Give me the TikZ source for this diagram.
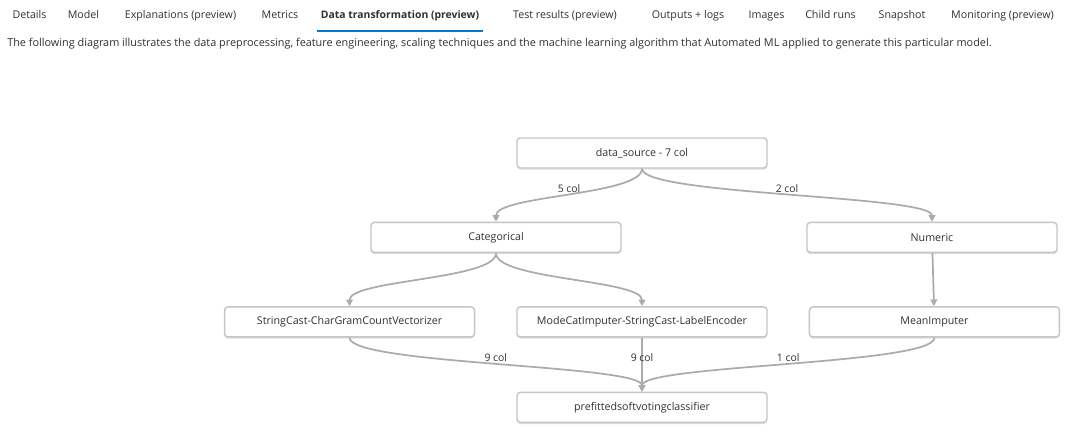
\documentclass[tikz,border=0pt]{standalone}
\usepackage{fontspec}
\setmainfont{Open Sans}
\usepackage{xcolor}
\usetikzlibrary{arrows.meta, positioning, shadows, calc}
\definecolor{inkgray}{HTML}{323130}
\definecolor{edgegray}{HTML}{ABABAB}
\definecolor{boxgray}{HTML}{C8C6C4}
\definecolor{tabblue}{HTML}{0078D4}

\begin{document}
\begin{tikzpicture}[
    x=0.75pt, y=-0.75pt,
    font=\fontsize{8}{10}\selectfont,
    node distance=39.75pt and 30.75pt,
    tab/.style={anchor=base, inner sep=0pt, text=inkgray, font=\fontsize{8}{10}\selectfont},
    stage/.style={draw=boxgray, line width=1.1pt, rounded corners=2.5pt, fill=white, text=inkgray,
        minimum width=187.5pt, minimum height=22.5pt, inner sep=0pt,
        drop shadow={shadow xshift=0pt, shadow yshift=-1.2pt, opacity=0.35, fill=black!35}},
    flow/.style={draw=edgegray, line width=1.3pt, -{Triangle[length=5pt, width=5pt]}},
    count/.style={midway, above, inner sep=1.5pt, text=inkgray, font=\fontsize{7.8}{9}\selectfont}
]
\fill[white] (0,0) rectangle (1078,435);
\useasboundingbox (0,0) rectangle (1078,435);

% tab bar
\node[tab] (tDetails) at (29.5,18.3) {Details};
\node[tab] (tModel) at (83.5,18.3) {Model};
\node[tab] (tExplain) at (180.5,18.3) {Explanations (preview)};
\node[tab] (tMetrics) at (280,18.3) {Metrics};
\node[tab, font=\fontsize{7.8}{10}\selectfont\bfseries] (tData) at (400,18.3) {Data transformation (preview)};
\node[tab] (tTest) at (565,18.3) {Test results (preview)};
\node[tab] (tOutputs) at (688,18.3) {Outputs + logs};
\node[tab] (tImages) at (766.5,18.3) {Images};
\node[tab] (tChild) at (830.5,18.3) {Child runs};
\node[tab] (tSnap) at (902,18.3) {Snapshot};
\node[tab] (tMonitor) at (1002.5,18.3) {Monitoring (preview)};
\draw[tabblue, line width=1.4pt] ($(tData.south west)+(-4,10)$) -- ($(tData.south east)+(4,10)$);

\node[anchor=base west, inner sep=0pt, text=inkgray, font=\fontsize{8.15}{10}\selectfont] (intro) at (7,46.5)
    {The following diagram illustrates the data preprocessing, feature engineering, scaling techniques and the machine learning algorithm that Automated ML applied to generate this particular model.};

% pipeline
\node[stage] (src) at (642,153) {data\_source - 7 col};
\node[stage, below=of src, xshift=-109.5pt] (cat) {Categorical};
\node[stage, below=of src, xshift=217.5pt] (num) {Numeric};
\node[stage, below=of cat, xshift=109.5pt] (mode) {ModeCatImputer-StringCast-LabelEncoder};
\node[stage, left=of mode] (chargram) {StringCast-CharGramCountVectorizer};
\node[stage, right=of mode] (mean) {MeanImputer};
\node[stage, below=40.5pt of mode] (clf) {prefittedsoftvotingclassifier};

\draw[flow] (src.south) .. controls +(0,26.5) and +(0,-26.5) .. (cat.north) node[count] {5 col};
\draw[flow] (src.south) .. controls +(0,26.5) and +(0,-26.5) .. (num.north) node[count] {2 col};
\draw[flow] (cat.south) .. controls +(0,26.5) and +(0,-26.5) .. (chargram.north);
\draw[flow] (cat.south) .. controls +(0,26.5) and +(0,-26.5) .. (mode.north);
\draw[flow] (num) -- (mean);
\draw[flow] (chargram.south) .. controls +(0,27) and +(0,-27) .. (clf.north) node[count] {9 col};
\draw[flow] (mode) -- (clf) node[count] {9 col};
\draw[flow] (mean.south) .. controls +(0,27) and +(0,-27) .. (clf.north) node[count] {1 col};

\end{tikzpicture}
\end{document}
